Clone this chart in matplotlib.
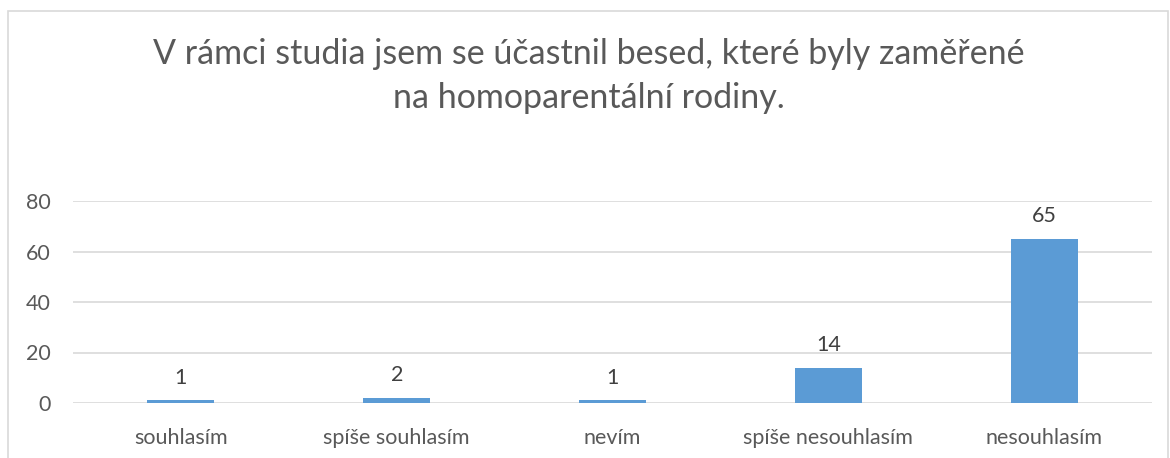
import matplotlib
matplotlib.use('Agg')
import matplotlib.pyplot as plt
from matplotlib.patches import Rectangle

categories = ['souhlasím', 'spíše souhlasím', 'nevím', 'spíše nesouhlasím', 'nesouhlasím']
values = [1, 2, 1, 14, 65]
yticks = [0, 20, 40, 60, 80]
title = 'V rámci studia jsem se účastnil besed, které byly zaměřené\nna homoparentální rodiny.'

plt.rcParams['font.family'] = ['Lato', 'DejaVu Sans']

fig = plt.figure(figsize=(11.7, 4.58), dpi=100)
# chart border like excel
fig.patches.append(Rectangle((8 / 1170, -0.05), (1168 - 8) / 1170, 1 - 11 / 458 + 0.05,
                             transform=fig.transFigure, fill=False,
                             edgecolor='#d9d9d9', linewidth=1.2))

ax = fig.add_axes([73 / 1170, 1 - 403 / 458, (1152 - 73) / 1170, (403 - 201) / 458])
x = list(range(len(categories)))
bars = ax.bar(x, values, width=0.31, color='#5b9bd5', zorder=3)
ax.set_xlim(-0.5, len(categories) - 0.5)
ax.set_ylim(0, 80)
ax.set_yticks(yticks)
ax.set_xticks(x)
ax.set_xticklabels(categories)
ax.grid(axis='y', color='#d9d9d9', linewidth=1.2, zorder=0)
for s in ax.spines.values():
    s.set_visible(False)
ax.tick_params(length=0, labelsize=15.5, colors='#595959')
ax.tick_params(axis='x', pad=18)
ax.tick_params(axis='y', pad=16)

for xi, v in zip(x, values):
    ax.text(xi, v + 5, str(v), ha='center', va='bottom', fontsize=15.5, color='#404040')

fig.text(0.503, 1 - 76 / 458, title, ha='center', va='center', fontsize=24.5,
         color='#595959', linespacing=1.45)

fig.savefig('out.png', dpi=100)
